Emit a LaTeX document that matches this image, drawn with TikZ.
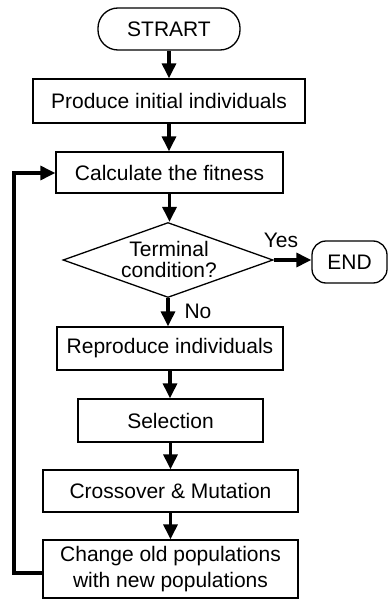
\documentclass[tikz,border=0pt]{standalone}
\usepackage{fontspec}
\setmainfont{Liberation Sans}
\usetikzlibrary{shapes.geometric,arrows.meta}
\begin{document}
\begin{tikzpicture}[x=1pt,y=-1pt,
  every node/.style={font=\fontsize{21}{24}\selectfont, inner sep=0pt},
  procbox/.style={draw, line width=1.3pt, align=center},
  termbox/.style={draw, line width=1.3pt, rounded corners=20pt},
  decbox/.style={draw, line width=1.3pt, diamond},
  flow/.style={line width=3.2pt, -{Triangle[length=15pt,width=14pt]}},
  lbl/.style={font=\fontsize{21}{24}\selectfont}
]
\useasboundingbox (0,0) rectangle (388,599);
\node[termbox, minimum width=142pt, minimum height=42pt] (start) at (169,29) {STRART};
\node[procbox, minimum width=272pt, minimum height=44pt] (produce) at (169,101) {Produce initial individuals};
\node[procbox, minimum width=227pt, minimum height=41pt] (calc) at (169.5,172.5) {Calculate the fitness};
\node[decbox, minimum width=210pt, minimum height=75pt] (dec) at (168,260) {};
\node[align=center, font=\fontsize{21}{21}\selectfont] (dectext) at (169,259) {Terminal\\condition?};
\node[termbox, minimum width=75pt, minimum height=42pt, rounded corners=14pt] (end) at (349.5,262) {END};
\node[procbox, minimum width=226pt, minimum height=43pt] (repro) at (170,348.5) {Reproduce individuals};
\node[procbox, minimum width=185pt, minimum height=43pt] (sel) at (170.5,420.5) {Selection};
\node[procbox, minimum width=255pt, minimum height=42pt] (cross) at (170.5,491) {Crossover \& Mutation};
\node[procbox, minimum width=255pt, minimum height=58pt, font=\fontsize{21}{26}\selectfont] (change) at (170.5,569) {Change old populations\\with new populations};
\node[lbl] (yes) at (281,240) {Yes};
\node[lbl] (no) at (198,311) {No};
\coordinate (lb) at (14,573);
\coordinate (lt) at (14,173);
\draw[flow] (start.south -| produce.north) -- (produce.north);
\draw[flow] (produce.south) -- (produce.south |- calc.north);
\draw[flow] (calc.south) -- (calc.south |- dec.north);
\draw[flow] (dec.east) -- (end.west |- dec.east);
\draw[flow] (dec.south) -- (dec.south |- repro.north);
\draw[flow] (repro.south) -- (repro.south |- sel.north);
\draw[flow] (sel.south) -- (sel.south |- cross.north);
\draw[flow] (cross.south) -- (cross.south |- change.north);
\draw[flow] (change.west |- lb) -- (lb) -- (lt) -- (calc.west |- lt);
\end{tikzpicture}
\end{document}
